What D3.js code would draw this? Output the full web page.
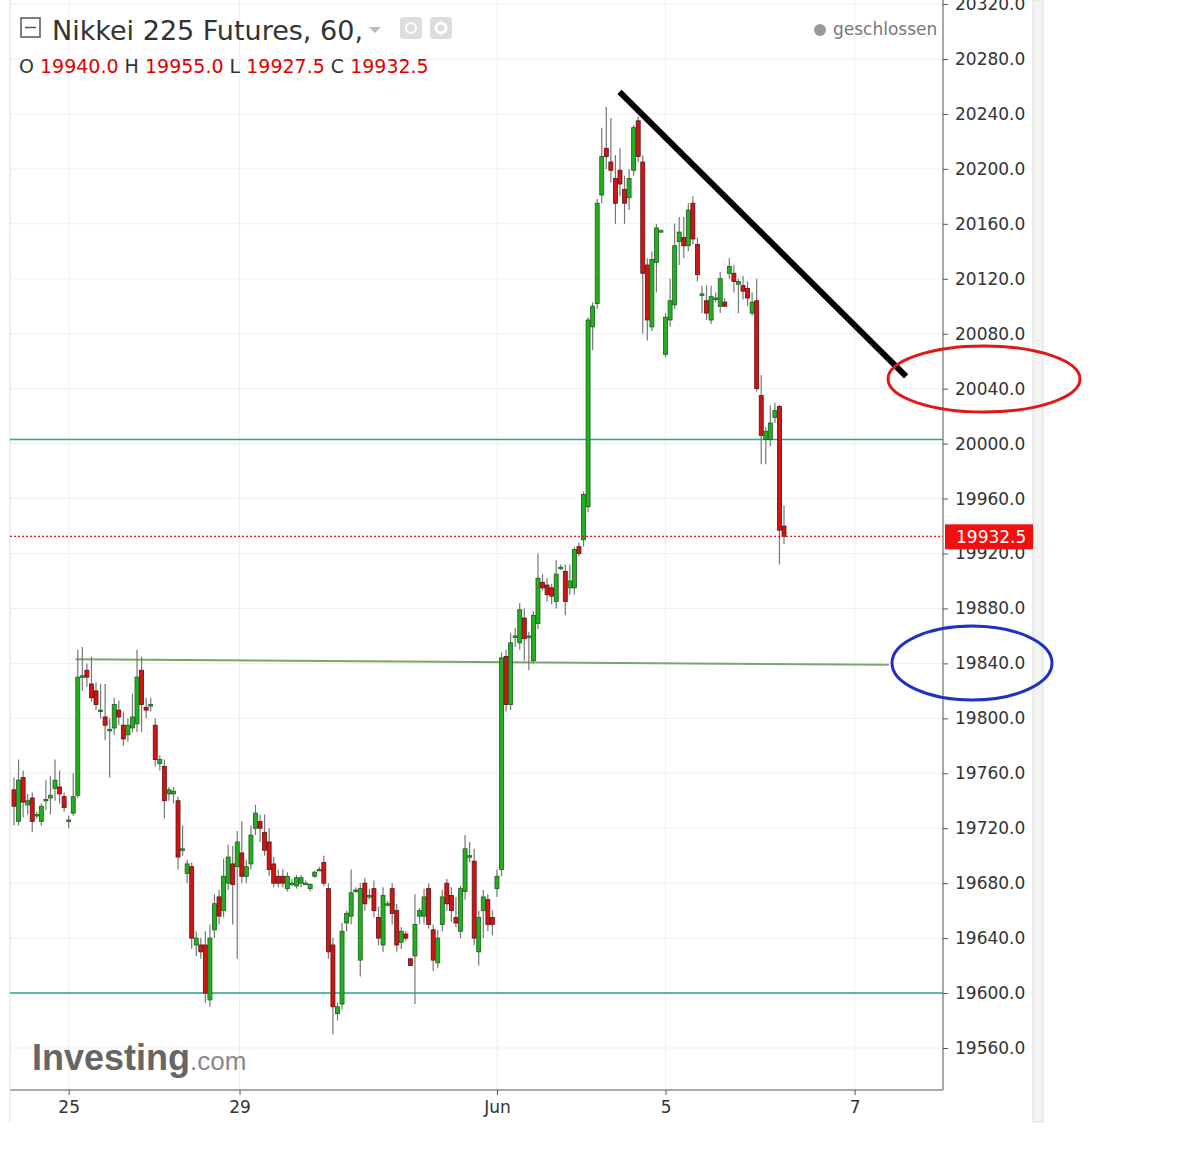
<!DOCTYPE html>
<html><head><meta charset="utf-8">
<script src="https://cdn.jsdelivr.net/npm/d3@7"></script>
<style>body{margin:0;background:#fff;font-family:"DejaVu Sans",sans-serif}</style>
</head><body><svg id="c" width="1182" height="1152"></svg>
<script>
const candles = [
[19748,19757,19722,19736],[19725,19770,19722,19755],[19757,19762,19728,19739],[19737,19745,19730,19740],[19742,19746,19717,19725],
[19730,19732,19727,19730],[19725,19738,19722,19736],[19740,19755,19733,19741],[19742,19758,19730,19744],[19749,19770,19740,19755],
[19750,19762,19738,19745],[19743,19746,19732,19735],[19726,19729,19720,19726],[19731,19760,19729,19743],[19744,19850,19742,19830],
[19830,19852,19820,19831],[19835,19840,19823,19830],[19825,19845,19812,19815],[19820,19826,19806,19810],[19806,19825,19800,19806],
[19801,19825,19784,19795],[19792,19800,19757,19792],[19793,19815,19788,19810],[19806,19813,19795,19801],[19795,19805,19780,19785],
[19788,19800,19783,19795],[19793,19818,19790,19801],[19796,19850,19790,19830],[19835,19845,19790,19810],[19808,19815,19800,19806],
[19810,19815,19805,19810],[19795,19800,19765,19770],[19767,19773,19762,19770],[19765,19770,19727,19740],[19745,19750,19740,19748],
[19745,19750,19738,19747],[19740,19743,19690,19699],[19705,19722,19700,19705],[19687,19697,19680,19694],[19692,19695,19632,19640],
[19635,19645,19627,19640],[19635,19640,19625,19630],[19635,19645,19593,19600],[19595,19650,19590,19640],[19646,19672,19640,19665],
[19670,19675,19650,19656],[19660,19698,19655,19685],[19680,19708,19675,19699],[19694,19707,19650,19679],[19692,19718,19625,19710],
[19702,19725,19680,19685],[19685,19697,19680,19692],[19694,19722,19690,19715],[19720,19737,19715,19731],[19725,19730,19710,19720],
[19717,19730,19700,19704],[19710,19720,19685,19690],[19694,19699,19677,19680],[19685,19690,19677,19680],[19685,19690,19677,19680],
[19676,19688,19674,19685],[19680,19683,19678,19680],[19678,19686,19676,19684],[19680,19686,19677,19684],[19680,19682,19679,19680],
[19676,19680,19674,19679],[19685,19689,19684,19688],[19690,19692,19689,19690],[19695,19700,19678,19680],[19676,19680,19625,19630],
[19635,19640,19570,19590],[19585,19593,19580,19590],[19592,19651,19588,19645],[19651,19660,19645,19658],[19656,19690,19650,19673],
[19675,19677,19673,19675],[19624,19680,19612,19676],[19680,19684,19660,19665],[19671,19676,19668,19671],[19676,19682,19655,19660],
[19655,19663,19635,19640],[19635,19677,19630,19671],[19665,19667,19663,19665],[19676,19680,19650,19658],[19660,19665,19630,19635],
[19637,19648,19632,19645],[19643,19645,19638,19640],[19625,19625,19620,19620],[19627,19672,19592,19650],[19656,19662,19650,19660],
[19656,19676,19650,19670],[19676,19680,19647,19650],[19646,19650,19616,19624],[19622,19646,19618,19640],[19650,19675,19645,19670],
[19680,19683,19660,19665],[19671,19677,19652,19660],[19655,19670,19648,19651],[19645,19678,19640,19676],[19674,19715,19668,19705],
[19700,19710,19695,19700],[19696,19705,19635,19640],[19630,19660,19620,19655],[19660,19675,19640,19670],[19668,19672,19645,19650],
[19655,19660,19642,19650],[19676,19690,19670,19685],[19690,19848,19685,19844],[19845,19850,19805,19810],[19810,19862,19806,19855],
[19860,19866,19852,19860],[19855,19884,19850,19879],[19873,19880,19842,19858],[19860,19863,19835,19860],[19842,19878,19840,19875],
[19869,19920,19865,19902],[19899,19905,19893,19895],[19897,19902,19885,19890],[19895,19898,19883,19889],[19885,19915,19880,19905],
[19910,19912,19908,19910],[19907,19912,19875,19885],[19895,19912,19890,19900],[19895,19925,19890,19923],[19925,19928,19918,19920],
[19930,19965,19925,19963],[19954,20092,19950,20090],[20085,20103,20068,20100],[20102,20178,20098,20175],[20181,20230,20175,20209],
[20215,20245,20200,20209],[20205,20237,20190,20199],[20193,20210,20160,20175],[20199,20215,20180,20189],[20185,20195,20160,20175],
[20179,20200,20170,20193],[20199,20232,20195,20230],[20235,20238,20205,20209],[20205,20210,20080,20124],[20130,20135,20075,20090],
[20085,20140,20082,20134],[20132,20160,20110,20157],[20155,20156,20154,20155],[20065,20095,20063,20092],[20090,20120,20085,20104],
[20101,20160,20098,20144],[20147,20165,20130,20154],[20150,20165,20135,20144],[20144,20175,20140,20170],[20175,20180,20145,20149],
[20145,20150,20118,20123],[20109,20115,20095,20109],[20104,20115,20090,20095],[20090,20115,20087,20107],[20106,20110,20103,20106],
[20100,20125,20095,20120],[20103,20106,20100,20100],[20124,20135,20120,20129],[20124,20130,20110,20118],[20116,20120,20095,20118],
[20115,20122,20105,20111],[20113,20118,20100,20106],[20095,20110,20093,20103],[20104,20120,20038,20040],[20035,20050,19985,20006],
[20003,20012,19985,20009],[20003,20028,19998,20015],[20019,20030,20015,20024],[20027,20028,19912,19937],[19940,19955,19927,19932.5]
];
const xTickLabels = ["25","29","Jun","5","7"];
const xTickIndex = [12,49.5,106,143,184.5];
const yTicks = [19560,19600,19640,19680,19720,19760,19800,19840,19880,19920,19960,20000,20040,20080,20120,20160,20200,20240,20280,20320];
const hLines = [20003,19600];
const supportLine = [[13.5,19843],[192,19839]];
const trendLine = [[132.9,20256],[195.8,20049]];
const lastPrice = 19932.5;

const svg = d3.select("#c");
const x = d3.scaleLinear().domain([0,169]).range([14,784]);
const y = d3.scaleLinear().domain([19560,20280]).range([1048,59]);
const L=10,R=943,B=1090;

svg.append("g").selectAll("line").data(yTicks).join("line")
 .attr("x1",L).attr("x2",R).attr("y1",d=>y(d)).attr("y2",d=>y(d)).attr("stroke","#efefef");
svg.append("g").selectAll("line").data(xTickIndex).join("line")
 .attr("x1",d=>x(d)).attr("x2",d=>x(d)).attr("y1",0).attr("y2",B).attr("stroke","#efefef");
svg.append("line").attr("x1",R).attr("x2",R).attr("y1",0).attr("y2",B).attr("stroke","#555");
svg.append("line").attr("x1",L).attr("x2",R).attr("y1",B).attr("y2",B).attr("stroke","#555");
svg.append("line").attr("x1",L).attr("x2",L).attr("y1",0).attr("y2",1122).attr("stroke","#ddd");
svg.append("rect").attr("x",1033).attr("y",0).attr("width",10).attr("height",1122).attr("fill","#f3f3f3").attr("stroke","#ddd");

const ya = d3.axisRight(y).tickValues(yTicks).tickFormat(d3.format(".1f")).tickSize(5);
const gy = svg.append("g").attr("transform",`translate(${R},0)`).call(ya);
gy.select(".domain").remove();
gy.selectAll("line").attr("stroke","#555");
gy.selectAll("text").attr("x",12).attr("font-size",17).attr("fill","#333").attr("font-family","DejaVu Sans");
const gx = svg.append("g").attr("transform",`translate(0,${B})`)
 .call(d3.axisBottom(x).tickValues(xTickIndex).tickFormat((d,i)=>xTickLabels[i]).tickSize(5));
gx.select(".domain").remove();
gx.selectAll("line").attr("stroke","#555");
gx.selectAll("text").attr("y",11).attr("font-size",17).attr("fill","#333").attr("font-family","DejaVu Sans");

svg.append("g").selectAll("line").data(hLines).join("line")
 .attr("x1",L).attr("x2",R).attr("y1",d=>y(d)).attr("y2",d=>y(d)).attr("stroke","#2aa58f").attr("stroke-width",1.5);
svg.append("line").attr("x1",x(supportLine[0][0])).attr("y1",y(supportLine[0][1]))
 .attr("x2",x(supportLine[1][0])).attr("y2",y(supportLine[1][1])).attr("stroke","#7aa860").attr("stroke-width",2);

const g = svg.append("g");
const w = 4;
candles.forEach((c,i)=>{
  const [o,h,l,cl]=c; const up = cl>=o;
  g.append("line").attr("x1",x(i)).attr("x2",x(i)).attr("y1",y(h)).attr("y2",y(l)).attr("stroke","#777").attr("stroke-width",1.2);
  const top=y(Math.max(o,cl)), bot=y(Math.min(o,cl));
  g.append("rect").attr("x",x(i)-w/2).attr("y",top).attr("width",w).attr("height",Math.max(1.5,bot-top))
   .attr("fill",up?"#22b022":"#d01515").attr("stroke",up?"#1a5e1a":"#5e1010").attr("stroke-width",0.8);
});

svg.append("line").attr("x1",L).attr("x2",R).attr("y1",y(lastPrice)).attr("y2",y(lastPrice))
 .attr("stroke","#e31a1a").attr("stroke-dasharray","2,2").attr("stroke-width",1.2);
svg.append("rect").attr("x",R+2).attr("y",y(lastPrice)-12).attr("width",88).attr("height",25).attr("fill","#f20f0f");
svg.append("text").attr("x",R+13).attr("y",y(lastPrice)+7).attr("font-size",17).attr("fill","#fff").text("19932.5");

svg.append("line").attr("x1",x(trendLine[0][0])).attr("y1",y(trendLine[0][1]))
 .attr("x2",x(trendLine[1][0])).attr("y2",y(trendLine[1][1])).attr("stroke","#000").attr("stroke-width",6);
svg.append("ellipse").attr("cx",984).attr("cy",379).attr("rx",96).attr("ry",33).attr("fill","none").attr("stroke","#e01818").attr("stroke-width",3);
svg.append("ellipse").attr("cx",972).attr("cy",663).attr("rx",80).attr("ry",37).attr("fill","none").attr("stroke","#2030c0").attr("stroke-width",3);

svg.append("rect").attr("x",21).attr("y",18).attr("width",19).attr("height",19).attr("fill","none").attr("stroke","#555").attr("stroke-width",1.5);
svg.append("line").attr("x1",25).attr("x2",36).attr("y1",27.5).attr("y2",27.5).attr("stroke","#555").attr("stroke-width",1.5);
svg.append("text").attr("x",52).attr("y",40).attr("font-size",27).attr("fill","#333").text("Nikkei 225 Futures, 60,");
svg.append("path").attr("d","M369,27 L381,27 L375,33 Z").attr("fill","#bbb");
svg.append("rect").attr("x",400).attr("y",17).attr("width",22).attr("height",22).attr("rx",3).attr("fill","#ddd");
svg.append("rect").attr("x",430).attr("y",17).attr("width",22).attr("height",22).attr("rx",3).attr("fill","#ddd");
svg.append("circle").attr("cx",411).attr("cy",28).attr("r",5).attr("fill","none").attr("stroke","#fff").attr("stroke-width",2);
svg.append("circle").attr("cx",441).attr("cy",28).attr("r",5).attr("fill","none").attr("stroke","#fff").attr("stroke-width",3);
const ohlc = [["O","19940.0"],["H","19955.0"],["L","19927.5"],["C","19932.5"]];
const t = svg.append("text").attr("x",19).attr("y",73).attr("font-size",19).style("white-space","pre");
ohlc.forEach(([k,v],i)=>{
  t.append("tspan").attr("fill","#333").text((i?" ":"")+k+" ");
  t.append("tspan").attr("fill","#e00000").text(v);
});
svg.append("circle").attr("cx",820).attr("cy",30).attr("r",6).attr("fill","#999");
svg.append("text").attr("x",833).attr("y",35).attr("font-size",17).attr("fill","#777").text("geschlossen");

const lg = svg.append("text").attr("x",32).attr("y",1070).attr("font-family","Liberation Sans").attr("fill","#666");
lg.append("tspan").attr("font-size",36).attr("font-weight","bold").text("Investing");
lg.append("tspan").attr("font-size",26).attr("fill","#888").text(".com");
</script></body></html>
